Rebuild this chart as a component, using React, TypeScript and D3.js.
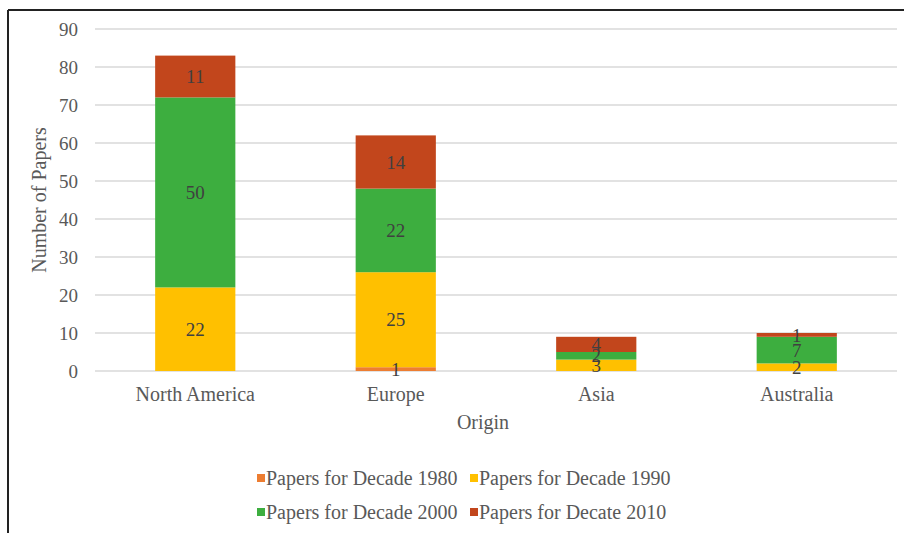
import React from "react";
import * as d3 from "d3";

const categories = ["North America", "Europe", "Asia", "Australia"];
const seriesNames = [
  "Papers for Decade 1980",
  "Papers for Decade 1990",
  "Papers for Decade 2000",
  "Papers for Decate 2010",
];
const decade1980 = [0, 1, 0, 0];
const decade1990 = [22, 25, 3, 2];
const decade2000 = [50, 22, 2, 7];
const decade2010 = [11, 14, 4, 1];
const yTicks = [0, 10, 20, 30, 40, 50, 60, 70, 80, 90];
const colors = ["#ED7D31", "#FFC000", "#3DAE3F", "#C2461C"];

const W = 904;
const H = 533;
const txt: React.CSSProperties = { fontFamily: '"Liberation Serif"' };

export default function App() {
  const series = [decade1980, decade1990, decade2000, decade2010];
  const rows = categories.map((c, i) => {
    const r: any = { cat: c };
    series.forEach((s, k) => (r["s" + k] = s[i]));
    return r;
  });
  const stack = d3.stack<any>().keys(["s0", "s1", "s2", "s3"])(rows);

  const x = d3.scaleBand().domain(categories).range([95, 897]).paddingInner(0.6).paddingOuter(0.3);
  const y = d3.scaleLinear().domain([0, 90]).range([371, 29]);

  return (
    <svg width={W} height={H} style={{ position: "absolute", left: 0, top: 0, background: "#fff" }}>
      <rect x={0} y={0} width={W} height={H} fill="#fff" />
      <line x1={8} y1={10} x2={W} y2={10} stroke="#222" strokeWidth={2} />
      <line x1={8} y1={10} x2={8} y2={H} stroke="#222" strokeWidth={2} />
      {yTicks.map((t) => (
        <g key={t}>
          <line x1={95} x2={897} y1={y(t)} y2={y(t)} stroke="#d9d9d9" strokeWidth={1.3} />
          <text x={78} y={y(t)} dy="0.35em" textAnchor="end" style={txt} fontSize={19} fill="#595959">
            {t}
          </text>
        </g>
      ))}
      {stack.map((layer, k) =>
        layer.map((d, i) => {
          const v = d[1] - d[0];
          if (v <= 0) return null;
          return (
            <rect
              key={k + "-" + i}
              x={x(categories[i])!}
              width={x.bandwidth()}
              y={y(d[1])}
              height={y(d[0]) - y(d[1])}
              fill={colors[k]}
            />
          );
        })
      )}
      {stack.map((layer, k) =>
        layer.map((d, i) => {
          const v = d[1] - d[0];
          if (v <= 0) return null;
          return (
            <text
              key={"t" + k + "-" + i}
              x={x(categories[i])! + x.bandwidth() / 2}
              y={y((d[0] + d[1]) / 2)}
              dy="0.35em"
              textAnchor="middle"
              style={txt}
              fontSize={19}
              fill="#404040"
            >
              {v}
            </text>
          );
        })
      )}
      {categories.map((c) => (
        <text
          key={c}
          x={x(c)! + x.bandwidth() / 2}
          y={401}
          textAnchor="middle"
          style={txt}
          fontSize={20}
          fill="#595959"
        >
          {c}
        </text>
      ))}
      <text x={483} y={429} textAnchor="middle" style={txt} fontSize={20} fill="#595959">
        Origin
      </text>
      <text
        transform={`translate(46,${y(45)}) rotate(-90)`}
        textAnchor="middle"
        style={txt}
        fontSize={20}
        fill="#595959"
      >
        Number of Papers
      </text>
      {seriesNames.map((n, k) => {
        const col = k % 2;
        const row = Math.floor(k / 2);
        const lx = col === 0 ? 257 : 470;
        const ly = row === 0 ? 485 : 519;
        return (
          <g key={n}>
            <rect x={lx} y={ly - 11} width={8} height={8} fill={colors[k]} />
            <text x={lx + 9} y={ly} style={txt} fontSize={20} fill="#595959">
              {n}
            </text>
          </g>
        );
      })}
    </svg>
  );
}
